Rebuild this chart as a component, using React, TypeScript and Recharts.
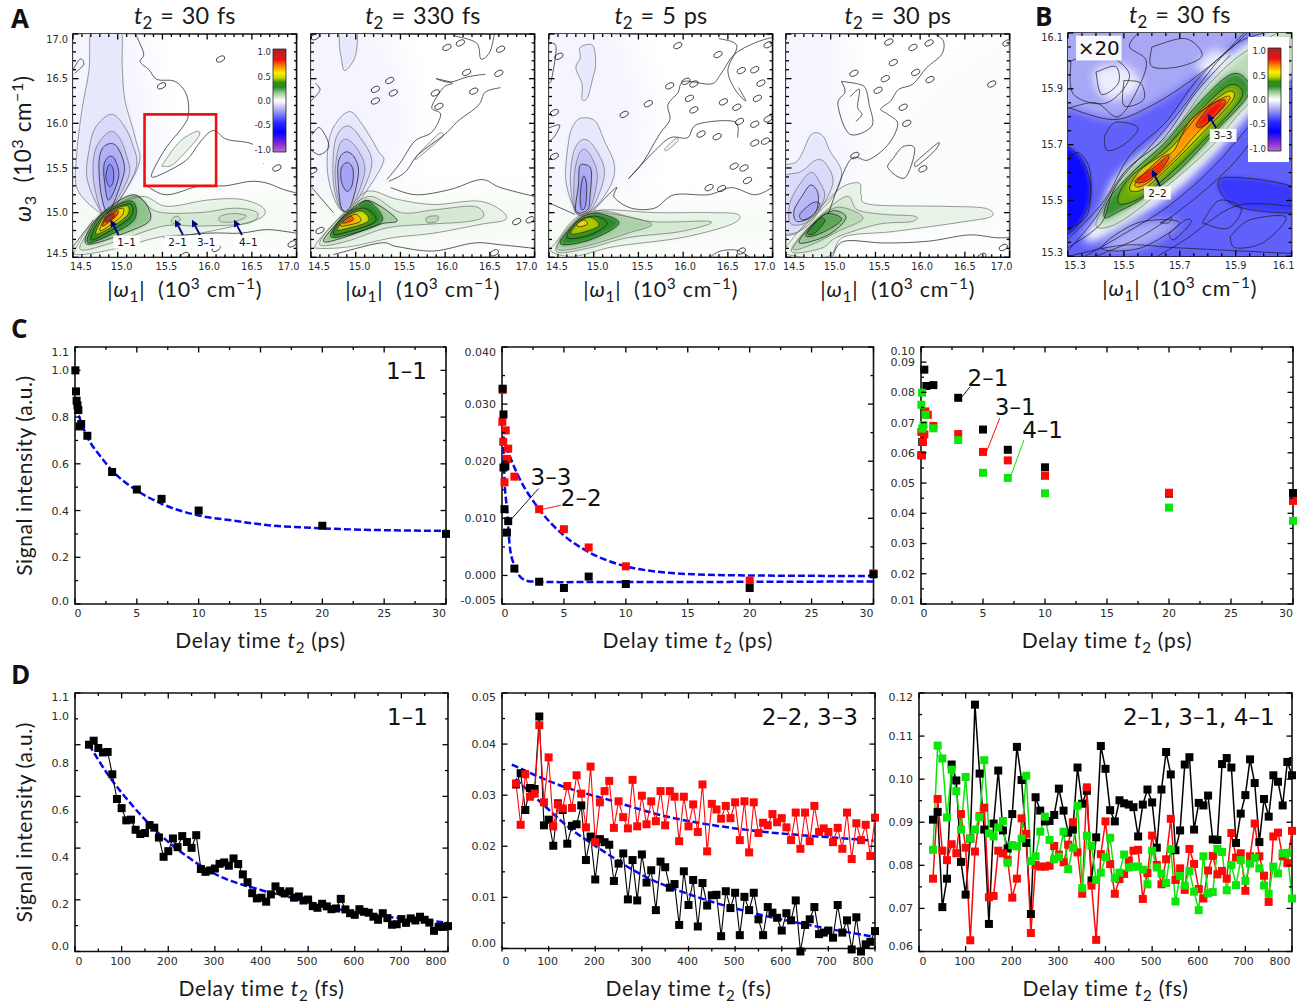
import React from 'react';
import { ComposedChart, XAxis, YAxis, Line, Scatter, Bar, ReferenceArea } from 'recharts';

type P = [number, number];
type Ring = [number, P[]];

// ---- colour scale of the 2D maps
const stopValues = [-1.05, -0.9, -0.65, -0.45, -0.25, -0.1, -0.02, 0.02, 0.08, 0.18, 0.28, 0.38, 0.48, 0.58, 0.7, 0.85, 1.07];
const stopColors = ['#b070d0', '#9030d0', '#0000ff', '#2a2aff', '#8c8cf5', '#d0d0f8', '#f6f6ff', '#fbfdfb', '#d5e8d3', '#8fc28c', '#2a8a2a', '#2f8f10', '#c8d800', '#ffee00', '#ff9000', '#f01010', '#a02828'];

// ---- panel A, t2 = 30 fs
const a1Rings: Ring[] = [
  [-0.022, [[14.4, 17.1], [15.2, 17.1], [15.4, 16.2], [15.5, 15.5], [15.0, 15.0], [14.4, 15.0]]],
  [0.03, [[14.4, 15.1], [15.2, 15.2], [16.0, 15.2], [17.1, 15.15], [17.1, 14.72], [16.0, 14.66], [15.0, 14.5], [14.4, 14.5]]],
  [-0.05, [[14.72, 17.1], [15.02, 17.1], [15.05, 16.63], [15.08, 16.26], [15.2, 15.82], [15.23, 15.52], [14.92, 15.0], [14.8, 15.0], [14.55, 15.26], [14.54, 15.63], [14.6, 16.15], [14.68, 16.6]]],
  [-0.08, [[14.92, 16.1], [15.05, 16.0], [15.16, 15.78], [15.2, 15.48], [14.92, 15.0], [14.82, 15.0], [14.66, 15.37], [14.68, 15.7], [14.75, 15.95]]],
  [-0.12, [[14.9, 15.9], [15.01, 15.85], [15.1, 15.63], [15.12, 15.4], [14.9, 15.0], [14.82, 15.0], [14.73, 15.37], [14.75, 15.7]]],
  [-0.17, [[14.9, 15.77], [14.99, 15.74], [15.07, 15.55], [15.05, 15.37], [14.9, 15.01], [14.82, 15.18], [14.79, 15.52], [14.82, 15.7]]],
  [-0.22, [[14.91, 15.63], [14.97, 15.59], [15.01, 15.4], [14.9, 15.14], [14.85, 15.37], [14.85, 15.55]]],
  [-0.26, [[14.91, 15.54], [14.95, 15.48], [14.95, 15.35], [14.91, 15.29], [14.87, 15.38], [14.88, 15.48]]],
  [0.05, [[15.51, 15.55], [15.7, 15.8], [15.89, 15.91], [15.89, 15.83], [15.63, 15.55], [15.52, 15.52]]],
  [0.05, [[15.25, 15.18], [15.55, 15.07], [16.0, 15.14], [16.37, 15.15], [16.63, 15.05], [16.55, 14.92], [15.92, 14.77], [15.48, 14.73], [14.99, 14.6], [14.58, 14.53], [14.53, 14.6], [14.8, 14.96]]],
  [0.08, [[15.18, 15.18], [15.44, 15.01], [15.92, 15.0], [16.3, 15.05], [16.56, 15.0], [16.45, 14.88], [15.92, 14.85], [15.51, 14.85], [14.99, 14.68], [14.58, 14.59], [14.8, 14.92]]],
  [0.1, [[16.15, 14.96], [16.3, 14.99], [16.44, 14.96], [16.3, 14.9], [16.15, 14.9]]],
  [0.1, [[15.6, 14.92], [15.66, 14.96], [15.7, 14.92], [15.62, 14.88]]],
  [0.18, [[15.18, 15.2], [15.37, 14.94], [15.1, 14.78], [14.65, 14.65], [14.78, 14.95]]],
  [0.28, [[15.15, 15.13], [15.19, 14.93], [14.95, 14.77], [14.66, 14.67], [14.82, 14.98]]],
  [0.36, [[15.13, 15.1], [15.15, 14.96], [14.92, 14.8], [14.7, 14.7], [14.85, 14.98]]],
  [0.5, [[15.1, 15.08], [15.11, 14.97], [14.92, 14.83], [14.75, 14.76], [14.87, 14.98]]],
  [0.62, [[15.05, 15.05], [15.05, 14.97], [14.9, 14.85], [14.8, 14.8], [14.88, 14.97]]],
  [0.82, [[15.0, 15.02], [14.98, 14.96], [14.88, 14.88], [14.83, 14.85], [14.88, 14.95]]],
  [1.0, [[14.95, 14.99], [14.95, 14.95], [14.87, 14.9], [14.87, 14.94]]],
];
const a1Lines: P[][] = [
  [[15.2, 17.0], [15.29, 16.78], [15.25, 16.69], [15.35, 16.6], [15.44, 16.49], [15.64, 16.47], [15.77, 16.32], [15.79, 16.09], [15.72, 15.95], [15.55, 15.74], [15.42, 15.52], [15.38, 15.4], [15.51, 15.44], [15.77, 15.59], [15.92, 15.79], [16.07, 15.92], [16.22, 15.82], [16.52, 15.76], [16.63, 15.55]],
  [[15.32, 15.3], [15.55, 15.2], [15.92, 15.3], [16.2, 15.3], [16.48, 15.35], [16.67, 15.33], [16.85, 15.26], [17.0, 15.22]],
  [[14.5, 14.62], [14.73, 14.92]],
  [[15.51, 14.72], [16.0, 14.77], [16.37, 14.77], [16.67, 14.81], [17.0, 14.77]],
  [[14.5, 16.6], [14.58, 16.72], [14.62, 16.66], [14.52, 16.56]],
];
const a1Blobs: P[] = [[16.15, 16.72], [15.49, 16.42], [16.78, 15.5], [16.95, 14.65], [15.75, 14.52], [16.1, 14.6]];
const redBox: P[] = [[15.3, 15.3], [16.1, 15.3], [16.1, 16.1], [15.3, 16.1]];

// ---- t2 = 330 fs
const a2Rings: Ring[] = [
  [-0.022, [[14.4, 17.1], [15.3, 17.1], [15.6, 15.8], [15.1, 15.05], [14.8, 15.05], [14.4, 15.3]]],
  [0.03, [[14.4, 15.15], [15.2, 15.25], [16.0, 15.2], [17.1, 15.15], [17.1, 14.75], [16.0, 14.62], [15.0, 14.5], [14.4, 14.5]]],
  [-0.05, [[14.83, 17.1], [15.0, 17.1], [15.0, 16.77], [14.88, 16.59], [14.84, 16.73], [14.82, 16.87]]],
  [-0.05, [[14.92, 16.13], [15.07, 15.99], [15.25, 15.69], [15.3, 15.54], [14.99, 15.07], [14.84, 15.03], [14.73, 15.24], [14.68, 15.54], [14.73, 15.91]]],
  [-0.08, [[14.9, 15.97], [15.05, 15.84], [15.18, 15.54], [14.99, 15.09], [14.84, 15.03], [14.75, 15.35], [14.77, 15.8]]],
  [-0.12, [[14.9, 15.82], [15.03, 15.69], [15.1, 15.46], [14.96, 15.07], [14.84, 15.05], [14.77, 15.39], [14.81, 15.73]]],
  [-0.16, [[14.9, 15.68], [14.99, 15.61], [15.03, 15.43], [14.94, 15.07], [14.84, 15.05], [14.8, 15.43], [14.82, 15.61]]],
  [-0.2, [[14.91, 15.56], [14.97, 15.48], [14.96, 15.31], [14.9, 15.24], [14.84, 15.35], [14.84, 15.5]]],
  [0.05, [[15.14, 15.24], [15.46, 15.15], [15.87, 15.09], [16.36, 15.13], [16.62, 15.03], [16.67, 14.92], [16.4, 14.87], [15.87, 14.77], [15.42, 14.72], [14.94, 14.62], [14.6, 14.6], [14.55, 14.64], [14.71, 14.83], [14.9, 15.03]]],
  [0.08, [[15.14, 15.18], [15.5, 15.0], [15.87, 15.03], [16.32, 15.07], [16.43, 14.96], [16.25, 14.9], [15.8, 14.87], [15.35, 14.83], [14.9, 14.68], [14.6, 14.64], [14.75, 14.87]]],
  [0.12, [[15.8, 14.95], [15.92, 14.96], [15.9, 14.9], [15.8, 14.89]]],
  [0.16, [[15.16, 15.13], [15.46, 14.92], [15.27, 14.87], [14.86, 14.72], [14.64, 14.68], [14.79, 14.88], [14.97, 15.05]]],
  [0.28, [[15.14, 15.13], [15.29, 14.9], [14.86, 14.74], [14.72, 14.75], [14.86, 14.96], [15.0, 15.05]]],
  [0.36, [[15.1, 15.05], [15.22, 14.9], [14.86, 14.77], [14.75, 14.77], [14.88, 14.96]]],
  [0.5, [[15.07, 15.02], [15.14, 14.9], [14.86, 14.81], [14.79, 14.81], [14.9, 14.96]]],
  [0.65, [[15.01, 14.98], [15.05, 14.9], [14.86, 14.85], [14.83, 14.87], [14.92, 14.95]]],
  [0.8, [[14.94, 14.96], [14.97, 14.92], [14.86, 14.88], [14.88, 14.92]]],
  [0.05, [[15.68, 15.63], [15.82, 15.78], [15.94, 15.89], [15.97, 15.85], [15.8, 15.7], [15.68, 15.6]]],
];
const a2Lines: P[][] = [
  [[15.35, 15.37], [15.5, 15.56], [15.66, 15.8], [15.85, 15.9], [15.95, 16.1], [15.85, 16.18], [15.98, 16.4], [16.08, 16.45], [15.9, 16.5], [16.05, 16.46], [16.25, 16.52], [16.45, 16.55]],
  [[15.37, 15.35], [15.55, 15.45], [15.7, 15.65], [16.0, 15.88], [16.15, 16.03], [16.37, 16.2], [16.45, 16.35], [16.62, 16.4]],
  [[14.51, 15.28], [14.75, 15.0]],
  [[15.39, 15.28], [15.68, 15.2], [16.06, 15.26], [16.4, 15.37], [16.62, 15.28], [17.0, 15.18]],
  [[14.75, 14.53], [15.27, 14.66], [15.46, 14.62], [15.87, 14.57], [16.32, 14.66], [16.62, 14.64], [17.0, 14.6]],
  [[14.51, 15.87], [14.6, 15.95], [14.7, 15.75], [14.6, 15.65], [14.5, 15.7]],
  [[14.5, 16.25], [14.6, 16.37], [14.55, 16.45]],
  [[16.1, 16.98], [16.35, 16.9], [16.4, 16.72], [16.5, 16.8], [16.55, 17.0]],
];
const a2Blobs: P[] = [[15.22, 16.38], [15.22, 16.25], [15.42, 16.34], [15.38, 16.48], [15.89, 16.34], [15.93, 16.19], [16.32, 16.36], [16.24, 16.57], [16.6, 16.56], [16.17, 16.9], [16.02, 16.85], [16.62, 16.83], [14.55, 16.97], [14.52, 15.47], [14.6, 14.8], [16.55, 14.55], [16.95, 14.92], [16.8, 14.9]];

// ---- t2 = 5 ps
const a3Rings: Ring[] = [
  [-0.022, [[14.4, 17.1], [15.3, 17.1], [15.6, 15.8], [15.2, 15.1], [14.8, 15.0], [14.4, 15.05]]],
  [0.03, [[14.4, 15.05], [15.2, 15.1], [16.0, 15.05], [17.1, 15.05], [17.1, 14.75], [16.0, 14.62], [15.0, 14.5], [14.4, 14.5]]],
  [-0.05, [[14.85, 16.85], [14.99, 16.87], [15.02, 16.66], [14.99, 16.51], [14.93, 16.29], [14.87, 16.27], [14.87, 16.44], [14.8, 16.62], [14.85, 16.73]]],
  [-0.05, [[14.87, 16.06], [15.02, 16.02], [15.12, 15.8], [15.23, 15.54], [15.19, 15.31], [15.0, 15.05], [14.82, 15.0], [14.69, 15.35], [14.72, 15.8], [14.78, 15.99]]],
  [-0.09, [[14.89, 15.82], [15.02, 15.71], [15.12, 15.43], [14.97, 15.03], [14.8, 15.0], [14.74, 15.35], [14.78, 15.69]]],
  [-0.13, [[14.89, 15.71], [14.98, 15.61], [15.04, 15.39], [14.95, 15.03], [14.8, 15.0], [14.78, 15.35], [14.82, 15.61]]],
  [-0.18, [[14.88, 15.54], [14.97, 15.48], [14.96, 15.2], [14.93, 15.03], [14.8, 15.02], [14.83, 15.31], [14.84, 15.5]]],
  [-0.23, [[14.89, 15.41], [14.92, 15.31], [14.91, 15.09], [14.87, 15.03], [14.85, 15.13], [14.86, 15.31]]],
  [0.05, [[15.1, 15.03], [15.68, 15.0], [16.28, 15.0], [16.61, 14.98], [16.54, 14.87], [15.98, 14.72], [15.23, 14.62], [14.78, 14.51], [14.52, 14.57], [14.59, 14.68], [14.8, 14.94]]],
  [0.08, [[15.08, 15.02], [15.64, 14.9], [16.31, 14.9], [15.98, 14.79], [15.38, 14.72], [14.93, 14.6], [14.58, 14.57], [14.78, 14.9]]],
  [0.14, [[15.06, 15.0], [15.64, 14.88], [15.38, 14.77], [14.89, 14.62], [14.59, 14.6], [14.8, 14.9]]],
  [0.28, [[15.06, 14.99], [15.28, 14.88], [14.97, 14.7], [14.63, 14.65], [14.78, 14.87], [14.89, 14.96]]],
  [0.36, [[15.02, 14.96], [15.15, 14.87], [14.93, 14.74], [14.7, 14.72], [14.82, 14.9]]],
  [0.46, [[14.97, 14.95], [15.06, 14.85], [14.85, 14.77], [14.74, 14.77], [14.84, 14.9]]],
  [0.62, [[14.89, 14.92], [14.93, 14.87], [14.84, 14.84], [14.81, 14.87]]],
  [0.045, [[15.8, 15.72], [15.92, 15.83], [15.94, 15.8], [15.82, 15.7]]],
];
const a3Lines: P[][] = [
  [[15.39, 15.38], [15.56, 15.58], [15.73, 15.87], [15.85, 16.04], [15.83, 16.21], [15.94, 16.34], [16.01, 16.47], [16.31, 16.44], [16.42, 16.55], [16.57, 16.77], [16.8, 16.9], [16.99, 16.96]],
  [[15.39, 15.38], [15.68, 15.69], [15.86, 15.84], [16.05, 15.84], [16.16, 15.99], [16.57, 16.02], [16.61, 15.84]],
  [[14.5, 15.11], [14.79, 14.98]],
  [[15.0, 15.03], [15.25, 15.28], [15.23, 15.17], [15.42, 15.05], [15.68, 15.05], [15.9, 15.2], [16.28, 15.2], [16.54, 15.28], [16.8, 15.2], [17.0, 15.28]],
  [[16.31, 14.51], [16.42, 14.57], [16.6, 14.58], [16.75, 14.5]],
  [[14.5, 16.9], [14.58, 16.85], [14.53, 16.5], [14.5, 16.45]],
  [[16.4, 16.95], [16.6, 16.87], [16.5, 16.6], [16.58, 16.38], [16.7, 16.25], [16.62, 16.4]],
  [[14.5, 15.95], [14.62, 15.98], [14.56, 15.85], [14.5, 15.8]],
];
const a3Blobs: P[] = [[14.61, 16.75], [14.56, 16.12], [14.56, 15.63], [15.61, 16.22], [15.34, 16.1], [15.85, 16.42], [16.03, 16.47], [16.12, 16.44], [16.07, 16.28], [16.12, 16.15], [16.45, 16.24], [16.6, 16.18], [16.83, 16.28], [16.65, 16.59], [16.8, 16.6], [16.87, 16.45], [16.8, 15.99], [16.8, 15.78], [16.63, 16.02], [16.95, 16.88], [16.39, 16.77], [15.94, 16.87], [16.57, 15.52], [16.68, 15.5], [16.72, 15.36], [16.29, 15.28], [16.43, 15.27], [16.65, 14.57], [16.95, 16.05], [16.92, 15.8], [16.2, 15.88], [16.38, 15.85]];

// ---- t2 = 30 ps
const a4Rings: Ring[] = [
  [-0.022, [[14.4, 17.1], [15.1, 17.1], [15.15, 16.0], [15.5, 15.5], [15.0, 15.0], [14.4, 14.9]]],
  [0.012, [[15.0, 15.1], [15.4, 15.6], [16.2, 16.5], [17.1, 16.9], [17.1, 14.9], [16.0, 14.7], [14.9, 14.5], [14.4, 14.5], [14.6, 14.85]]],
  [-0.05, [[14.78, 15.87], [14.91, 15.86], [14.99, 15.69], [15.12, 15.46], [15.04, 15.2], [14.82, 14.96], [14.57, 14.75], [14.4, 14.87], [14.4, 15.46], [14.63, 15.58]]],
  [-0.08, [[14.84, 15.59], [14.95, 15.54], [15.02, 15.31], [14.8, 14.92], [14.59, 14.77], [14.4, 14.83], [14.4, 15.35], [14.67, 15.46]]],
  [-0.11, [[14.78, 15.45], [14.87, 15.35], [14.93, 15.17], [14.78, 14.92], [14.56, 14.87], [14.54, 15.09], [14.65, 15.31]]],
  [-0.15, [[14.78, 15.31], [14.86, 15.2], [14.82, 14.98], [14.63, 14.9], [14.59, 15.02], [14.69, 15.2]]],
  [-0.19, [[14.8, 15.11], [14.88, 15.09], [14.78, 14.96], [14.68, 14.92], [14.66, 14.99]]],
  [0.05, [[15.32, 15.33], [15.34, 15.2], [15.45, 15.09], [16.28, 15.07], [16.72, 15.05], [16.8, 14.96], [16.5, 14.9], [15.71, 14.79], [15.15, 14.73], [14.97, 14.51], [14.52, 14.53], [14.52, 14.64], [14.85, 15.02], [15.12, 15.28]]],
  [0.08, [[15.17, 15.18], [15.3, 15.03], [15.6, 14.98], [15.94, 14.96], [15.9, 14.9], [15.53, 14.87], [15.08, 14.73], [14.89, 14.6], [14.56, 14.57], [14.82, 14.9]]],
  [0.12, [[15.08, 15.06], [15.36, 14.94], [15.08, 14.79], [14.78, 14.64], [14.58, 14.6], [14.82, 14.9]]],
  [0.17, [[15.02, 15.02], [15.17, 14.94], [14.97, 14.75], [14.65, 14.66], [14.8, 14.87]]],
  [0.23, [[14.97, 14.99], [15.12, 14.92], [14.89, 14.77], [14.72, 14.74], [14.84, 14.9]]],
  [0.3, [[14.89, 14.94], [14.93, 14.9], [14.82, 14.77], [14.74, 14.77], [14.82, 14.87]]],
];
const a4Lines: P[][] = [
  [[15.02, 14.51], [15.15, 14.68], [15.6, 14.66], [16.09, 14.68], [16.54, 14.75], [16.84, 14.72], [17.0, 14.72]],
  [[14.97, 14.98], [15.21, 15.58], [15.42, 15.59], [15.64, 15.76], [15.75, 15.99], [15.64, 16.1], [15.56, 16.16], [15.67, 16.25], [15.76, 16.38], [15.92, 16.44], [16.07, 16.62], [16.24, 16.77], [16.26, 16.92], [16.16, 17.0]],
  [[15.12, 16.47], [15.31, 16.44], [15.39, 16.39], [15.43, 16.21], [15.46, 15.97], [15.21, 15.88], [15.08, 16.21], [15.16, 16.35], [15.12, 16.47]],
  [[15.22, 16.3], [15.32, 16.38], [15.3, 16.18], [15.35, 16.1], [15.28, 16.02]],
  [[15.7, 15.61], [15.81, 15.74], [15.94, 15.71], [15.83, 15.39], [15.64, 15.5], [15.7, 15.61]],
  [[15.94, 15.56], [16.2, 15.78], [16.16, 15.69], [15.96, 15.52], [15.94, 15.56]],
];
const a4Blobs: P[] = [[15.65, 16.91], [15.7, 16.68], [15.92, 16.85], [15.95, 16.57], [16.11, 16.49], [15.53, 16.37], [15.61, 16.5], [15.81, 16.18], [15.85, 16.0], [15.26, 16.56], [16.03, 15.49], [16.8, 16.44], [16.97, 16.9], [16.93, 14.61], [16.69, 14.51], [15.27, 15.64], [16.1, 16.9]];

// ---- panel B
const bRings: Ring[] = [
  [-0.34, [[15.2, 16.2], [16.2, 16.2], [16.2, 15.2], [15.2, 15.2]]],
  [-0.6, [[15.25, 15.68], [15.34, 15.66], [15.38, 15.55], [15.36, 15.45], [15.3, 15.38], [15.25, 15.4]]],
  [-0.42, [[15.85, 15.58], [16.1, 15.55], [16.15, 15.46], [15.9, 15.48]]],
  [-0.19, [[15.31, 15.83], [15.46, 15.79], [15.58, 15.83], [15.74, 15.93], [15.93, 16.09], [15.93, 16.15], [15.25, 16.15], [15.25, 15.86]]],
  [-0.04, [[15.4, 15.97], [15.51, 15.98], [15.56, 15.91], [15.47, 15.86], [15.41, 15.89]]],
  [-0.04, [[15.76, 15.98], [15.83, 16.04], [15.9, 15.99], [15.81, 15.95]]],
  [-0.18, [[15.42, 15.33], [15.56, 15.33], [15.7, 15.42], [15.55, 15.42]]],
  [0.01, [[15.36, 15.38], [15.42, 15.46], [15.47, 15.58], [15.64, 15.73], [15.79, 15.92], [15.93, 16.06], [16.15, 16.15], [16.15, 16.0], [15.95, 15.81], [15.83, 15.67], [15.67, 15.52], [15.48, 15.4], [15.38, 15.35]]],
  [0.12, [[15.4, 15.41], [15.45, 15.51], [15.52, 15.62], [15.67, 15.74], [15.79, 15.9], [15.93, 16.03], [16.12, 16.12], [16.12, 15.98], [15.94, 15.84], [15.81, 15.69], [15.64, 15.54], [15.48, 15.42]]],
  [0.27, [[15.43, 15.44], [15.45, 15.51], [15.54, 15.61], [15.65, 15.71], [15.76, 15.84], [15.88, 15.95], [15.94, 15.93], [15.94, 15.87], [15.83, 15.75], [15.7, 15.61], [15.57, 15.51], [15.48, 15.46]]],
  [0.42, [[15.48, 15.49], [15.51, 15.57], [15.64, 15.68], [15.76, 15.81], [15.87, 15.91], [15.92, 15.9], [15.91, 15.85], [15.8, 15.73], [15.68, 15.61], [15.56, 15.51]]],
  [0.55, [[15.52, 15.54], [15.56, 15.61], [15.67, 15.69], [15.77, 15.81], [15.87, 15.89], [15.89, 15.86], [15.77, 15.73], [15.65, 15.61], [15.57, 15.54]]],
  [0.7, [[15.54, 15.56], [15.63, 15.65], [15.68, 15.68], [15.74, 15.79], [15.86, 15.87], [15.87, 15.85], [15.76, 15.74], [15.69, 15.66], [15.58, 15.56]]],
  [0.85, [[15.54, 15.57], [15.61, 15.62], [15.66, 15.66], [15.64, 15.62], [15.58, 15.57]]],
  [0.85, [[15.76, 15.77], [15.81, 15.84], [15.86, 15.86], [15.85, 15.83], [15.79, 15.77]]],
];
const bLines: P[][] = [
  [[15.3, 15.83], [15.4, 15.85], [15.48, 15.8], [15.55, 15.9], [15.58, 16.0], [15.52, 16.05], [15.55, 16.1]],
  [[15.31, 16.0], [15.42, 16.03], [15.52, 15.95], [15.44, 15.85], [15.32, 15.88], [15.31, 16.0]],
  [[15.4, 15.96], [15.47, 15.98], [15.48, 15.92], [15.42, 15.88], [15.4, 15.96]],
  [[15.5, 15.93], [15.56, 15.92], [15.57, 15.86], [15.5, 15.84], [15.5, 15.93]],
  [[15.6, 16.05], [15.72, 16.08], [15.78, 16.02], [15.7, 15.98], [15.6, 15.98], [15.6, 16.05]],
  [[15.43, 15.73], [15.47, 15.78], [15.55, 15.76], [15.5, 15.7], [15.44, 15.68], [15.43, 15.73]],
  [[15.78, 15.42], [15.84, 15.5], [15.92, 15.47], [15.87, 15.4], [15.78, 15.42]],
  [[15.88, 15.37], [15.95, 15.43], [16.08, 15.44], [16.0, 15.35], [15.9, 15.33], [15.88, 15.37]],
  [[15.66, 15.38], [15.72, 15.43], [15.74, 15.42], [15.68, 15.36], [15.66, 15.38]],
  [[15.63, 15.42], [15.67, 15.44], [15.66, 15.42], [15.63, 15.42]],
  [[15.3, 15.65], [15.34, 15.67], [15.38, 15.6], [15.37, 15.45], [15.3, 15.4]],
  [[15.62, 15.3], [15.72, 15.36], [15.9, 15.48], [16.1, 15.48]],
  [[15.3, 15.33], [15.42, 15.42], [15.47, 15.55], [15.6, 15.7], [15.7, 15.82], [15.82, 15.98], [15.93, 16.1]],
  [[15.3, 15.36], [15.43, 15.5], [15.52, 15.66], [15.65, 15.78], [15.76, 15.93], [15.9, 16.06], [16.0, 16.1]],
  [[15.3, 15.32], [15.4, 15.44], [15.5, 15.6], [15.64, 15.72], [15.76, 15.89], [15.88, 16.02]],
  [[15.36, 15.3], [15.5, 15.38], [15.66, 15.48], [15.82, 15.62], [15.96, 15.78], [16.1, 15.93]],
  [[15.4, 15.3], [15.56, 15.37], [15.72, 15.48], [15.88, 15.62], [16.0, 15.77]],
  [[15.3, 15.3], [15.5, 15.34], [15.7, 15.33], [16.1, 15.31]],
];

// ---- panel C, long delays (ps)
const c11T = [0.03, 0.08, 0.13, 0.2, 0.27, 0.35, 0.5, 1, 3, 5, 7, 10, 20, 30];
const c11V = [1.0, 0.91, 0.87, 0.85, 0.83, 0.76, 0.77, 0.72, 0.565, 0.49, 0.45, 0.4, 0.335, 0.3];
const c11FitT = [0.3, 1, 2, 3, 5, 7, 10, 12.8, 15, 20, 25, 30];
const c11FitV = [0.807, 0.714, 0.636, 0.571, 0.486, 0.429, 0.379, 0.357, 0.341, 0.324, 0.316, 0.313];
const c22T = [0.06, 0.03, 0.3, 0.1, 0.5, 0.4, 0.2, 1, 3, 5, 7, 10, 20, 30];
const c22V = [0.0325, 0.0269, 0.0254, 0.0234, 0.0222, 0.0204, 0.0163, 0.0173, 0.0116, 0.0081, 0.0049, 0.0016, -0.0009, 0.00035];
const c33T = [0.05, 0.12, 0.12, 0.27, 0.2, 0.5, 0.4, 1, 3, 5, 7, 10, 20, 30];
const c33V = [0.0327, 0.0282, 0.0189, 0.0191, 0.0116, 0.0095, 0.0075, 0.0012, -0.0011, -0.0022, -0.0002, -0.0015, -0.0022, 0.0002];
const c22FitT = [0.1, 0.65, 1.3, 3, 5, 7, 10, 12.8, 15.5, 20, 30];
const c22FitV = [0.0243, 0.0208, 0.0175, 0.0116, 0.007, 0.0041, 0.0016, 0.0006, 0.0002, 0, -0.0001];
const c33FitT = [0.1, 0.2, 0.4, 0.65, 1.05, 1.6, 2.3, 4.7, 30];
const c33FitV = [0.0243, 0.017, 0.0117, 0.0047, 0.0015, -0.0005, -0.00105, -0.00117, -0.00105];
const c21T = [0.03, 0.1, 0.27, 0.43, 1, 3, 5, 7, 10, 20, 30];
const c21V = [0.0592, 0.0636, 0.0875, 0.0821, 0.0824, 0.0782, 0.0677, 0.061, 0.0552, 0.0465, 0.0467];
const c31T = [0.03, 0.08, 0.16, 0.27, 0.35, 0.55, 1, 3, 5, 7, 10, 20, 30];
const c31V = [0.0669, 0.0592, 0.0636, 0.0661, 0.0737, 0.0726, 0.0689, 0.0662, 0.0603, 0.0575, 0.0524, 0.0468, 0.0441];
const c41T = [0.03, 0.08, 0.1, 0.2, 0.38, 1, 3, 5, 7, 10, 20, 30];
const c41V = [0.0759, 0.0799, 0.068, 0.0691, 0.0726, 0.0681, 0.0642, 0.0534, 0.0517, 0.0466, 0.0419, 0.0375];

// ---- panel D, early delays (fs)
const delayFs = [30, 40, 50, 60, 70, 80, 90, 100, 110, 120, 130, 140, 150, 160, 170, 180, 190, 200, 210, 220, 230, 240, 250, 260, 270, 280, 290, 300, 310, 320, 330, 340, 350, 360, 370, 380, 390, 400, 410, 420, 430, 440, 450, 460, 470, 480, 490, 500, 510, 520, 530, 540, 550, 560, 570, 580, 590, 600, 610, 620, 630, 640, 650, 660, 670, 680, 690, 700, 710, 720, 730, 740, 750, 760, 770, 780, 790, 800];
const d11 = [.880, .897, .866, .847, .849, .754, .649, .610, .558, .561, .518, .500, .504, .538, .527, .485, .403, .427, .481, .444, .491, .466, .441, .495, .351, .339, .345, .353, .373, .379, .365, .396, .372, .328, .295, .248, .226, .229, .212, .243, .277, .257, .247, .256, .229, .234, .217, .221, .193, .186, .203, .192, .180, .183, .224, .179, .163, .156, .180, .169, .165, .148, .135, .163, .142, .114, .116, .138, .122, .141, .132, .148, .135, .123, .088, .105, .105, .108];
const d11FitT = [30, 71, 125, 175, 240, 304, 397, 482, 590, 697, 800];
const d11FitV = [.88, .752, .617, .511, .405, .326, .263, .22, .17, .142, .123];
const d22 = [32.3, 24.2, 34.1, 29.7, 30.3, 43.7, 28.6, 37.4, 23.9, 28.2, 27.4, 31.8, 27.5, 33.9, 30.3, 23.7, 35.6, 20.8, 28.6, 30.8, 32.8, 23.6, 28.8, 25.7, 23.5, 33.0, 23.9, 29.9, 24.3, 28.8, 24.9, 30.8, 24.1, 30.8, 29.7, 21.0, 29.7, 23.9, 28.2, 22.8, 32.1, 19.0, 28.3, 27.2, 25.4, 27.9, 25.5, 28.6, 21.2, 28.8, 18.8, 28.6, 22.6, 24.6, 24.1, 26.3, 24.7, 25.5, 23.7, 21.2, 26.6, 19.5, 26.6, 21.0, 27.9, 22.8, 23.5, 22.8, 20.8, 23.6, 19.5, 26.6, 17.5, 24.5, 21.2, 24.2, 18.1, 25.6];
const d33 = [32.1, 34.3, 27.1, 31.4, 31.2, 45.4, 24.1, 25.2, 20.1, 28.4, 27.1, 20.5, 24.0, 24.3, 28.0, 17.3, 21.9, 13.5, 21.4, 20.8, 20.3, 13.2, 16.6, 18.6, 9.6, 17.3, 9.4, 18.4, 12.9, 15.3, 7.5, 17.0, 15.9, 11.9, 12.6, 4.6, 15.1, 8.5, 13.4, 4.3, 12.8, 8.4, 10.4, 10.5, 2.4, 11.2, 7.9, 10.9, 2.6, 10.1, 7.5, 10.9, 5.7, 2.6, 8.1, 7.0, 6.0, 3.5, 6.9, 5.5, 9.4, -0.6, 4.6, 5.7, 8.1, 2.8, 3.1, 3.5, 2.1, 8.5, 3.1, 5.5, -0.2, 6.1, -0.6, 0.8, 1.3, 3.4];
const d22FitT = [21, 125, 232, 340, 447, 554, 697, 797];
const d22FitV = [36.0, 31.9, 29.0, 26.1, 24.2, 22.9, 21.8, 21.1];
const d33FitT = [29, 82, 146, 218, 304, 411, 518, 625, 697, 797];
const d33FitV = [33.2, 28.7, 23.5, 19.0, 14.2, 10.3, 7.4, 5.2, 3.9, 2.3];
const d21 = [90.6, 92.4, 70.3, 76.9, 103.4, 99.7, 80.8, 73.2, 86.2, 117.3, 101.3, 88.3, 66.4, 89.7, 102.0, 88.1, 83.9, 91.9, 107.5, 99.8, 85.2, 68.7, 95.8, 92.7, 90.2, 90.3, 91.7, 97.8, 92.7, 87.6, 88.3, 102.7, 94.3, 97.3, 76.5, 86.5, 107.7, 102.4, 92.8, 90.2, 95.1, 94.4, 94.1, 93.5, 86.7, 94.1, 97.6, 94.6, 84.1, 97.6, 106.3, 101.1, 83.5, 88.1, 103.4, 105.1, 88.3, 94.5, 93.9, 96.2, 86.0, 85.9, 103.5, 104.9, 102.7, 85.2, 92.0, 96.3, 104.6, 99.1, 85.4, 95.4, 91.3, 100.9, 99.4, 93.9, 104.0, 100.9];
const d31 = [76.9, 95.4, 83.4, 81.2, 84.9, 82.8, 91.9, 84.1, 62.6, 83.2, 91.4, 93.4, 72.6, 72.9, 83.4, 82.8, 81.3, 72.5, 76.9, 90.9, 87.3, 64.3, 80.1, 79.7, 79.7, 79.9, 84.5, 82.5, 80.7, 84.8, 90.0, 83.0, 73.4, 98.1, 75.3, 62.7, 82.6, 90.2, 80.3, 73.4, 76.8, 78.0, 81.1, 83.4, 83.6, 72.2, 78.2, 86.9, 80.1, 75.6, 81.4, 90.8, 76.6, 79.3, 74.3, 83.8, 80.3, 74.5, 72.3, 78.8, 82.2, 77.9, 78.7, 76.9, 87.5, 81.8, 82.8, 74.1, 82.1, 89.7, 82.1, 77.6, 71.5, 86.7, 87.6, 82.1, 80.5, 88.0];
const d41 = [83.6, 107.8, 104.8, 91.1, 102.2, 97.2, 88.3, 100.5, 86.2, 88.3, 91.2, 104.4, 87.4, 86.7, 88.8, 90.3, 80.6, 84.7, 84.4, 86.2, 100.8, 81.0, 82.1, 87.8, 91.3, 85.9, 81.4, 82.0, 87.8, 79.1, 84.1, 93.8, 74.7, 86.9, 84.5, 76.6, 78.3, 81.9, 86.4, 77.0, 78.3, 82.5, 79.5, 79.7, 79.7, 79.0, 75.6, 83.4, 79.5, 78.1, 75.9, 83.8, 71.6, 77.5, 75.3, 78.7, 73.9, 69.6, 82.1, 73.5, 73.8, 83.8, 83.1, 74.2, 80.1, 75.4, 81.2, 76.4, 80.4, 81.7, 79.3, 75.3, 73.4, 79.7, 78.1, 82.8, 82.9, 72.3];

// ---- axis marks and labels: [value, text, offset along the axis in px]
type Lab = [number, string, number];
type Spec = { major: number[]; minor: number[]; labels: Lab[] };
const wTicks = [14.5, 15, 15.5, 16, 16.5, 17];
const wMinor = [14.6, 14.7, 14.8, 14.9, 15.1, 15.2, 15.3, 15.4, 15.6, 15.7, 15.8, 15.9, 16.1, 16.2, 16.3, 16.4, 16.6, 16.7, 16.8, 16.9];
const wXLabels: Lab[] = [[14.5, '14.5', 8], [15, '15.0', 4], [15.5, '15.5', 4], [16, '16.0', 2], [16.5, '16.5', 0], [17, '17.0', -8]];
const wYLabels: Lab[] = [[14.5, '14.5', -4], [15, '15.0', 0], [15.5, '15.5', 0], [16, '16.0', 0], [16.5, '16.5', 0], [17, '17.0', 5]];
const bTicks = [15.3, 15.5, 15.7, 15.9, 16.1];
const bMinor = [15.35, 15.4, 15.45, 15.55, 15.6, 15.65, 15.75, 15.8, 15.85, 15.95, 16, 16.05];
const bXLabels: Lab[] = [[15.3, '15.3', 7], [15.5, '15.5', 0], [15.7, '15.7', 0], [15.9, '15.9', 0], [16.1, '16.1', -8]];
const bYLabels: Lab[] = [[15.3, '15.3', -4], [15.5, '15.5', 0], [15.7, '15.7', 0], [15.9, '15.9', 0], [16.1, '16.1', 4]];
const psTicks = [0, 2.5, 5, 7.5, 10, 12.5, 15, 17.5, 20, 22.5, 25, 27.5, 30];
const psLabels: Lab[] = [[0, '0', 3], [5, '5', 0], [10, '10', 0], [15, '15', 0], [20, '20', 0], [25, '25', 0], [30, '30', -7]];
const fsTicks = [0, 50, 100, 150, 200, 250, 300, 350, 400, 450, 500, 550, 600, 650, 700, 750, 800];
const fsLabels: Lab[] = [[0, '0', 4], [100, '100', -1], [200, '200', -1], [300, '300', -1], [400, '400', -1], [500, '500', -1], [600, '600', -1], [700, '700', -2], [800, '800', -12]];
const c1YTicks = [0, 0.1, 0.2, 0.3, 0.4, 0.5, 0.6, 0.7, 0.8, 0.9, 1.0, 1.1];
const c1YLabels: Lab[] = [[0, '0.0', -3], [0.2, '0.2', 0], [0.4, '0.4', 0], [0.6, '0.6', 0], [0.8, '0.8', 0], [1, '1.0', 0], [1.1, '1.1', 5]];
const c2YTicks = [-0.005, 0, 0.005, 0.01, 0.015, 0.02, 0.025, 0.03, 0.035, 0.04];
const c2YLabels: Lab[] = [[-0.005, '-0.005', -4], [0, '0.000', 0], [0.01, '0.010', 0], [0.02, '0.020', 0], [0.03, '0.030', 0], [0.04, '0.040', 5]];
const c3YTicks = [0.01, 0.015, 0.02, 0.025, 0.03, 0.035, 0.04, 0.045, 0.05, 0.055, 0.06, 0.065, 0.07, 0.075, 0.08, 0.085, 0.09, 0.095];
const c3YLabels: Lab[] = [[0.01, '0.01', -4], [0.02, '0.02', 0], [0.03, '0.03', 0], [0.04, '0.04', 0], [0.05, '0.05', 0], [0.06, '0.06', 0], [0.07, '0.07', 0], [0.08, '0.08', 0], [0.09, '0.09', 0], [0.095, '0.10', 4]];
const d1YTicks = [0, 0.11, 0.22, 0.33, 0.44, 0.55, 0.66, 0.77, 0.88, 0.99, 1.1];
const d1YLabels: Lab[] = [[0, '0.0', -5], [0.2, '0.2', 0], [0.4, '0.4', 0], [0.6, '0.6', 0], [0.8, '0.8', 0], [1, '1.0', 0], [1.1, '1.1', 4]];
const d2YTicks = [0, 0.005, 0.01, 0.015, 0.02, 0.025, 0.03, 0.035, 0.04, 0.045, 0.05];
const d2YLabels: Lab[] = [[0, '0.00', -5], [0.01, '0.01', 0], [0.02, '0.02', 0], [0.03, '0.03', 0], [0.04, '0.04', 0], [0.05, '0.05', 4]];
const d3YTicks = [0.06, 0.065, 0.07, 0.075, 0.08, 0.085, 0.09, 0.095, 0.1, 0.105, 0.11, 0.115, 0.12];
const d3YLabels: Lab[] = [[0.06, '0.06', -5], [0.07, '0.07', 0], [0.08, '0.08', 0], [0.09, '0.09', 0], [0.1, '0.10', 0], [0.11, '0.11', 0], [0.12, '0.12', 4]];
const barTicks = [-1, -0.5, 0, 0.5, 1];
const barTickLabels = ['-1.0', '-0.5', '0.0', '0.5', '1.0'];

// ---- helpers
const TEXT = '#2b2b2b';
const SANS = 'DejaVu Sans';
const TITLE = 'Lato';
const BLUE = '#0808ee';
const RED = '#ff0808';
const GREEN = '#0ae60a';

const hexRgb = (h: string) => [1, 3, 5].map((i) => parseInt(h.slice(i, i + 2), 16));
function levelColor(v: number) {
  for (let i = 0; i < stopValues.length - 1; i++) {
    if (v <= stopValues[i + 1]) {
      const t = Math.max(0, (v - stopValues[i]) / (stopValues[i + 1] - stopValues[i]));
      const a = hexRgb(stopColors[i]);
      const b = hexRgb(stopColors[i + 1]);
      return `rgb(${a.map((c, k) => Math.round(c + (b[k] - c) * t)).join(',')})`;
    }
  }
  return stopColors[stopColors.length - 1];
}
const xy = (xs: number[], ys: number[], k = 1) => xs.map((x, i) => ({ x, y: ys[i] * k }));
const pts = (a: P[]) => a.map(([x, y]) => ({ x, y }));

function smoothPath(p: { x: number; y: number }[], closed: boolean) {
  const n = p.length;
  const at = (i: number) => (closed ? p[(i + n) % n] : p[Math.max(0, Math.min(n - 1, i))]);
  let d = `M${p[0].x},${p[0].y}`;
  const last = closed ? n : n - 1;
  for (let i = 0; i < last; i++) {
    const a = at(i - 1), b = at(i), c = at(i + 1), e = at(i + 2);
    d += `C${b.x + (c.x - a.x) / 6},${b.y + (c.y - a.y) / 6} ${c.x - (e.x - b.x) / 6},${c.y - (e.y - b.y) / 6} ${c.x},${c.y}`;
  }
  return d + (closed ? 'Z' : '');
}
function RingPath(props: any) {
  const { points, paint, outline, outlineWidth, closed, blur, sharp } = props;
  if (!points || points.length < 2) return null;
  const d = sharp ? `M${points.map((q: any) => `${q.x},${q.y}`).join('L')}Z` : smoothPath(points, closed);
  return <path d={d} fill={paint || 'none'} stroke={outline || 'none'} strokeWidth={outlineWidth || 0} style={blur ? { filter: `blur(${blur}px)` } : undefined} />;
}
function ArrowPath(props: any) {
  const { points } = props;
  if (!points || points.length < 2) return null;
  const [s, t] = points;
  const dx = t.x - s.x, dy = t.y - s.y, L = Math.hypot(dx, dy) || 1;
  const ux = dx / L, uy = dy / L;
  const bx = t.x - ux * 7, by = t.y - uy * 7;
  return (
    <g>
      <line x1={s.x} y1={s.y} x2={bx} y2={by} stroke="#00007a" strokeWidth={1.8} />
      <polygon points={`${t.x},${t.y} ${bx - uy * 3.5},${by + ux * 3.5} ${bx + uy * 3.5},${by - ux * 3.5}`} fill="#00007a" />
    </g>
  );
}
const NoMark = () => <g />;
const OpenBlob = (p: any) => <ellipse cx={p.cx} cy={p.cy} rx={4.5} ry={2.6} transform={`rotate(-25 ${p.cx} ${p.cy})`} fill="none" stroke="#111" strokeWidth={0.7} />;

function mapLayers(rings: Ring[], lines: P[][], blobs: P[], blur: number, paleBlur: number, paleBelow: number) {
  const fills = rings.map(([level, ring], i) => (
    <Scatter key={`f${i}`} data={pts(ring)} shape={NoMark} isAnimationActive={false} legendType="none" line={<RingPath paint={levelColor(level)} closed blur={Math.abs(level) < paleBelow ? paleBlur : blur} />} />
  ));
  const outlines = rings.filter(([level]) => Math.abs(level) >= 0.045 && Math.abs(level) !== 0.34).map(([level, ring], i) => {
    const strong = Math.abs(level) >= 0.15;
    return <Scatter key={`o${i}`} data={pts(ring)} shape={NoMark} isAnimationActive={false} legendType="none" line={<RingPath outline={strong ? '#262626' : '#6f6f6f'} outlineWidth={strong ? 0.8 : 0.7} closed />} />;
  });
  const open = lines.map((l, i) => (
    <Scatter key={`l${i}`} data={pts(l)} shape={NoMark} isAnimationActive={false} legendType="none" line={<RingPath outline="#1a1a1a" outlineWidth={0.7} />} />
  ));
  const dots = blobs.length ? <Scatter key="b" data={pts(blobs)} shape={OpenBlob} isAnimationActive={false} legendType="none" /> : null;
  return [...fills, ...outlines, ...open, dots];
}

function XMark(p: any) {
  const { x, y, payload, spec, h, size, gap } = p;
  const v = payload.value;
  const near = (a: number) => Math.abs(a - v) < 1e-7;
  const len = spec.major.some(near) ? 5.5 : spec.minor.some(near) ? 3 : 0;
  const lab = spec.labels.find((l: Lab) => near(l[0]));
  return (
    <g>
      {len > 0 && <line x1={x} x2={x} y1={y} y2={y - len} stroke="#000" strokeWidth={1.3} />}
      {len > 0 && <line x1={x} x2={x} y1={y - h} y2={y - h + len} stroke="#000" strokeWidth={1.3} />}
      {lab && <text x={x + lab[2]} y={y + gap} textAnchor="middle" fontFamily={SANS} fontSize={size} fill={TEXT}>{lab[1]}</text>}
    </g>
  );
}
function YMark(p: any) {
  const { x, y, payload, spec, w, size, gap } = p;
  const v = payload.value;
  const near = (a: number) => Math.abs(a - v) < 1e-7;
  const len = spec.major.some(near) ? 5.5 : spec.minor.some(near) ? 3 : 0;
  const lab = spec.labels.find((l: Lab) => near(l[0]));
  return (
    <g>
      {len > 0 && <line x1={x} x2={x + len} y1={y} y2={y} stroke="#000" strokeWidth={1.3} />}
      {len > 0 && <line x1={x + w} x2={x + w - len} y1={y} y2={y} stroke="#000" strokeWidth={1.3} />}
      {lab && <text x={x - gap} y={y + lab[2] + size * 0.36} textAnchor="end" fontFamily={SANS} fontSize={size} fill={TEXT}>{lab[1]}</text>}
    </g>
  );
}
const allTicks = (s: Spec) => Array.from(new Set([...s.major, ...s.minor, ...s.labels.map((l) => l[0])])).sort((a, b) => a - b);

const ML = 70, MT = 33, MR = 10, MB = 52;
function Panel(props: any) {
  const { left, top, width, height, xd, yd, xs, ys, clip, labelSize, xGap, yGap, titleNode, xNode, yNode, xNodeDy, xFont, yFont, children } = props;
  return (
    <div style={{ position: 'absolute', left: left - ML, top: top - MT }}>
      <ComposedChart width={width + ML + MR} height={height + MT + MB} margin={{ left: ML - 1, top: MT, right: MR, bottom: MB - 1 }}>
        <XAxis type="number" dataKey="x" domain={xd} allowDataOverflow={!!clip} ticks={allTicks(xs)} interval={0} height={1} axisLine={false} tickLine={false} tickSize={0} tickMargin={0}
          tick={(p: any) => <XMark {...p} spec={xs} h={height} size={labelSize} gap={xGap} />} />
        <YAxis type="number" dataKey="y" domain={yd} allowDataOverflow={!!clip} ticks={allTicks(ys)} interval={0} width={1} axisLine={false} tickLine={false} tickSize={0} tickMargin={0}
          tick={(p: any) => <YMark {...p} spec={ys} w={width} size={labelSize} gap={yGap} />} />
        {children}
        <ReferenceArea x1={xd[0]} x2={xd[1]} y1={yd[0]} y2={yd[1]} fill="none" stroke="#111" strokeWidth={1.6} ifOverflow="visible" />
        {titleNode && <text x={ML + width / 2} y={MT - 10} textAnchor="middle" fontFamily={TITLE} fontSize={23.5} fill="#1a1a1a" style={{ wordSpacing: 2 }}>{titleNode}</text>}
        {xNode && <text x={ML + width / 2} y={MT + height + (xNodeDy || 44)} textAnchor="middle" fontFamily={TITLE} fontSize={xFont || 21} fill="#1a1a1a" style={{ letterSpacing: 0.75 }}>{xNode}</text>}
        {yNode && <text transform={`translate(${yNode.x},${MT + height / 2 + (yNode.dy || 0)}) rotate(-90)`} textAnchor="middle" fontFamily={TITLE} fontSize={yFont || 21} fill="#1a1a1a" style={{ letterSpacing: 0.6 }}>{yNode.node}</text>}
      </ComposedChart>
    </div>
  );
}

const SMALL = '0.72em';
const T2 = ({ rest }: any) => <><tspan fontStyle="italic">t</tspan><tspan dy={5} fontSize={SMALL}>2</tspan><tspan dy={-5}>{rest}</tspan></>;
const W1 = <><tspan>|</tspan><tspan fontStyle="italic">ω</tspan><tspan dy={5} fontSize={SMALL}>1</tspan><tspan dy={-5}>{'|\u00a0\u00a0(10'}</tspan><tspan dy={-8} fontSize={SMALL}>3</tspan><tspan dy={8}>{'\u00a0cm'}</tspan><tspan dy={-8} fontSize={SMALL}>−1</tspan><tspan dy={8}>)</tspan></>;
const W3 = <><tspan fontStyle="italic">ω</tspan><tspan dy={5} fontSize={SMALL}>3</tspan><tspan dy={-5}>{'\u00a0\u00a0(10'}</tspan><tspan dy={-8} fontSize={SMALL}>3</tspan><tspan dy={8}>{'\u00a0cm'}</tspan><tspan dy={-8} fontSize={SMALL}>−1</tspan><tspan dy={8}>)</tspan></>;
const delay = (unit: string) => <><tspan>{'Delay time\u00a0'}</tspan><T2 rest={`\u00a0(${unit})`} /></>;

const fitLine = (xs: number[], ys: number[], k = 1) => (
  <Line key={`fit${xs[0]}${ys[0]}${xs.length}`} data={xy(xs, ys, k)} dataKey="y" type="monotone" stroke={BLUE} strokeWidth={2.5} strokeDasharray="7 3" dot={false} isAnimationActive={false} legendType="none" />
);
const squareDot = (c: string) => (p: any) => <rect key={p.index} x={p.cx - 4} y={p.cy - 4} width={8} height={8} fill={c} />;
const markedLine = (xs: number[], ys: number[], c: string, k = 1, w = 1.1) => (
  <Line key={c} data={xy(xs, ys, k)} dataKey="y" stroke={c} strokeWidth={w} dot={squareDot(c)} isAnimationActive={false} legendType="none" />
);
const marks = (xs: number[], ys: number[], c: string) => (
  <Scatter key={c} data={xy(xs, ys)} isAnimationActive={false} legendType="none" shape={(p: any) => <rect x={p.cx - 4} y={p.cy - 4} width={8} height={8} fill={c} />} />
);
const note = (x: number, y: number, text: string, size: number, box = false) => (
  <Scatter key={`n${text}${x}`} data={[{ x, y }]} isAnimationActive={false} legendType="none" shape={(p: any) => (
    <g>
      {box && <rect x={p.cx - text.length * size * 0.33 - 3} y={p.cy - size * 0.62} width={text.length * size * 0.66 + 6} height={size * 1.24} fill="#fff" fillOpacity={0.92} />}
      <text x={p.cx} y={p.cy + size * 0.36} textAnchor="middle" fontFamily={SANS} fontSize={size} fill="#111">{text}</text>
    </g>
  )} />
);
const leader = (a: P, b: P, c: string) => (
  <Scatter key={`s${a[0]}${b[1]}`} data={pts([a, b])} shape={NoMark} isAnimationActive={false} legendType="none" line={<RingPath outline={c} outlineWidth={1} />} />
);
const arrow = (tail: P, head: P) => (
  <Scatter key={`a${head[0]}`} data={pts([tail, head])} shape={NoMark} isAnimationActive={false} legendType="none" line={<ArrowPath />} />
);

function ColorBar({ left, top, id }: any) {
  const lo = stopValues[0], hi = stopValues[stopValues.length - 1];
  return (
    <div style={{ position: 'absolute', left, top, width: 41, height: 125, background: '#fff' }}>
      <ComposedChart width={41} height={125} data={[{ k: 'scale', r: [lo, hi] }]} margin={{ left: 19, right: 8, top: 11, bottom: 11 }} barCategoryGap={0}>
        <defs>
          <linearGradient id={id} x1="0" y1="0" x2="0" y2="1">
            {stopValues.map((v, i) => <stop key={v} offset={(hi - v) / (hi - lo)} stopColor={stopColors[i]} />).reverse()}
          </linearGradient>
        </defs>
        <XAxis dataKey="k" type="category" hide />
        <YAxis type="number" domain={[lo, hi]} ticks={barTicks} interval={0} width={1} axisLine={false} tickLine={false} tickSize={0} tickMargin={0}
          tick={(p: any) => <text x={p.x - 2} y={p.y + 3} textAnchor="end" fontFamily={SANS} fontSize={8.5} fill={TEXT}>{barTickLabels[barTicks.indexOf(p.payload.value)]}</text>} />
        <Bar dataKey="r" fill={`url(#${id})`} stroke="#222" strokeWidth={0.8} isAnimationActive={false} legendType="none" />
      </ComposedChart>
    </div>
  );
}

const Letter = ({ t, x, y }: any) => (
  <div style={{ position: 'absolute', left: x, top: y, fontFamily: 'Open Sans', fontWeight: 700, fontSize: 26, lineHeight: '26px', color: '#111' }}>{t}</div>
);

const wX: Spec = { major: wTicks, minor: wMinor, labels: wXLabels };
const wY: Spec = { major: wTicks, minor: wMinor, labels: wYLabels };
const wYBare: Spec = { major: wTicks, minor: wMinor, labels: [] };
const mapCommon = { top: 34.4, width: 223.6, height: 223.3, xd: [14.5, 17], yd: [14.5, 17], xs: wX, clip: true, labelSize: 9.8, xGap: 12.5, yGap: 5, xNode: W1, xNodeDy: 40, xFont: 21.5, yFont: 22.5 };
const altSpec = (t: number[], labels: Lab[]): Spec => ({ major: t.filter((_, i) => i % 2 === 0), minor: t.filter((_, i) => i % 2 === 1), labels });
const psX = altSpec(psTicks, psLabels);
const fsX = altSpec(fsTicks, fsLabels);
const cCommon = { top: 347, height: 257, xd: [0, 30], xs: psX, labelSize: 11, xGap: 13, yGap: 6, xNode: delay('ps') };
const dCommon = { top: 693.3, height: 258.5, xd: [0, 800], xs: fsX, labelSize: 11, xGap: 13, yGap: 6, xNode: delay('fs') };
const signalTitle = <tspan>Signal intensity (a.u.)</tspan>;

export default function App() {
  return (
    <div style={{ position: 'absolute', left: 0, top: 0, width: 1304, height: 1004, overflow: 'hidden', background: '#fff' }}>
      <Panel {...mapCommon} left={72.7} ys={wY} titleNode={<T2 rest=" = 30 fs" />} yNode={{ x: 28, dy: 3, node: W3 }}>
        {mapLayers(a1Rings, a1Lines, a1Blobs, 1.5, 14, 0.04)}
        <Scatter key="box" data={pts(redBox)} shape={NoMark} isAnimationActive={false} legendType="none" line={<RingPath outline="#f01010" outlineWidth={2.6} sharp />} />
        {arrow([15.01, 14.75], [14.92, 14.92])}
        {arrow([15.73, 14.75], [15.64, 14.92])}
        {arrow([15.92, 14.75], [15.83, 14.92])}
        {arrow([16.39, 14.75], [16.3, 14.92])}
        {note(15.1, 14.67, '1–1', 10.5, true)}
        {note(15.67, 14.67, '2–1', 10.5, true)}
        {note(15.99, 14.67, '3–1', 10.5, true)}
        {note(16.46, 14.67, '4–1', 10.5, true)}
      </Panel>
      <Panel {...mapCommon} left={310.8} ys={wYBare} titleNode={<T2 rest=" = 330 fs" />}>{mapLayers(a2Rings, a2Lines, a2Blobs, 1.5, 14, 0.04)}</Panel>
      <Panel {...mapCommon} left={548.5} ys={wYBare} titleNode={<T2 rest=" = 5 ps" />}>{mapLayers(a3Rings, a3Lines, a3Blobs, 1.5, 14, 0.04)}</Panel>
      <Panel {...mapCommon} left={786.3} ys={wYBare} titleNode={<T2 rest=" = 30 ps" />}>{mapLayers(a4Rings, a4Lines, a4Blobs, 1.5, 14, 0.04)}</Panel>
      <Panel {...mapCommon} left={1067.7} top={33.4} xd={[15.3, 16.1]} yd={[15.3, 16.1]} xs={{ major: bTicks, minor: bMinor, labels: bXLabels }} ys={{ major: bTicks, minor: bMinor, labels: bYLabels }} titleNode={<T2 rest=" = 30 fs" />}>
        {mapLayers(bRings, bLines, [], 2, 5, 0.2)}
        {arrow([15.63, 15.55], [15.6, 15.61])}
        {arrow([15.83, 15.76], [15.8, 15.81])}
        {note(15.62, 15.527, '2–2', 10.5, true)}
        {note(15.855, 15.733, '3–3', 10.5, true)}
        {note(15.41, 16.046, '×20', 20, true)}
      </Panel>
      <ColorBar left={253} top={38} id="barA" />
      <ColorBar left={1248} top={37} id="barB" />

      <Panel {...cCommon} left={75} width={371} yd={[0, 1.1]} ys={altSpec(c1YTicks, c1YLabels)} yNode={{ x: 27, node: signalTitle }}>
        {fitLine(c11FitT, c11FitV)}
        {marks(c11T, c11V, '#000')}
        {note(26.8, 1.0, '1–1', 23)}
      </Panel>
      <Panel {...cCommon} left={501.8} width={371.5} yd={[-0.005, 0.04]} ys={{ major: [0, 0.01, 0.02, 0.03, 0.04], minor: [-0.005, 0.005, 0.015, 0.025, 0.035], labels: c2YLabels }}>
        {fitLine(c22FitT, c22FitV)}
        {fitLine(c33FitT, c33FitV)}
        {marks(c22T, c22V, RED)}
        {marks(c33T, c33V, '#000')}
        {leader([0.65, 0.0096], [2.95, 0.0152], '#111')}
        {leader([3.3, 0.0116], [4.75, 0.0123], RED)}
        {note(3.95, 0.0172, '3–3', 23)}
        {note(6.4, 0.0136, '2–2', 23)}
      </Panel>
      <Panel {...cCommon} left={920.8} width={372} yd={[0.01, 0.095]} ys={altSpec(c3YTicks, c3YLabels)}>
        {marks(c21T, c21V, '#000')}
        {marks(c31T, c31V, RED)}
        {marks(c41T, c41V, GREEN)}
        {leader([3.3, 0.0785], [3.95, 0.0818], '#111')}
        {leader([5.3, 0.0605], [6.35, 0.0715], RED)}
        {leader([7.2, 0.0518], [8.3, 0.0642], GREEN)}
        {note(5.4, 0.0848, '2–1', 23)}
        {note(7.6, 0.0752, '3–1', 23)}
        {note(9.8, 0.0678, '4–1', 23)}
      </Panel>

      <Panel {...dCommon} left={75} width={373} yd={[0, 1.1]} ys={altSpec(d1YTicks, d1YLabels)} yNode={{ x: 27, node: signalTitle }}>
        {fitLine(d11FitT, d11FitV)}
        {markedLine(delayFs, d11, '#000')}
        {note(713, 1.0, '1–1', 23)}
      </Panel>
      <Panel {...dCommon} left={501.8} width={373} yd={[0, 0.05]} ys={altSpec(d2YTicks, d2YLabels)}>
        {markedLine(delayFs, d33, '#000', 0.001)}
        {fitLine(d33FitT, d33FitV, 0.001)}
        {fitLine(d22FitT, d22FitV, 0.001)}
        {markedLine(delayFs, d22, RED, 0.001)}
        {note(660, 0.0453, '2–2, 3–3', 23)}
      </Panel>
      <Panel {...dCommon} left={919.3} width={373} yd={[0.06, 0.12]} ys={altSpec(d3YTicks, d3YLabels)}>
        {markedLine(delayFs, d21, '#000', 0.001, 1.5)}
        {markedLine(delayFs, d31, RED, 0.001, 1.5)}
        {markedLine(delayFs, d41, GREEN, 0.001, 1.5)}
        {note(600, 0.1145, '2–1, 3–1, 4–1', 23)}
      </Panel>

      <Letter t="A" x={11} y={5} />
      <Letter t="B" x={1035} y={3} />
      <Letter t="C" x={11} y={315} />
      <Letter t="D" x={11} y={661} />
    </div>
  );
}
